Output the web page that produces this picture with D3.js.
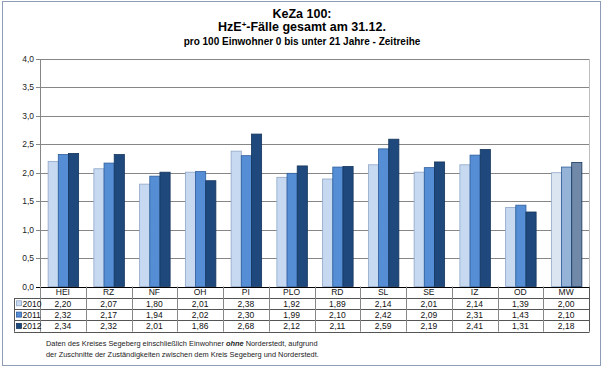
<!DOCTYPE html>
<html>
<head>
<meta charset="utf-8">
<script src="https://cdn.jsdelivr.net/npm/d3@7"></script>
<style>
  body { margin: 0; background: #fff; }
  svg { font-family: "Liberation Sans", Arial, sans-serif; }
</style>
</head>
<body>
<svg id="chart" width="603" height="370"></svg>
<script>
// chart data
const categories = ["HEI", "RZ", "NF", "OH", "PI", "PLÖ", "RD", "SL", "SE", "IZ", "OD", "MW"];
const years = ["2010", "2011", "2012"];
const values2010 = [2.20, 2.07, 1.80, 2.01, 2.38, 1.92, 1.89, 2.14, 2.01, 2.14, 1.39, 2.00];
const values2011 = [2.32, 2.17, 1.94, 2.02, 2.30, 1.99, 2.10, 2.42, 2.09, 2.31, 1.43, 2.10];
const values2012 = [2.34, 2.32, 2.01, 1.86, 2.68, 2.12, 2.11, 2.59, 2.19, 2.41, 1.31, 2.18];
const yTicks = [0, 0.5, 1, 1.5, 2, 2.5, 3, 3.5, 4];

const series = [values2010, values2011, values2012];
const fills = ["#c6d9f1", "#558ed5", "#1f497d"];
const strokes = ["#8fa6c6", "#2c5d9c", "#15355c"];
const fillsMW = ["#dbe5f2", "#95b3d7", "#7089a9"];
const fmt = v => v.toFixed(2).replace(".", ",");

const svg = d3.select("#chart");
const plotL = 40, plotR = 589, plotT = 59, plotB = 286.5;

// outer frame
svg.append("rect")
  .attr("x", 2.5).attr("y", 1.5).attr("width", 598).attr("height", 364)
  .attr("fill", "#fff").attr("stroke", "#8c9db5");

// titles
svg.append("text").attr("x", 302).attr("y", 17.5)
  .attr("text-anchor", "middle").attr("font-weight", "bold").attr("font-size", 12.5)
  .text("KeZa 100:");
const t2 = svg.append("text").attr("x", 302).attr("y", 30.5)
  .attr("text-anchor", "middle").attr("font-weight", "bold").attr("font-size", 12.5);
t2.append("tspan").text("HzE");
t2.append("tspan").attr("font-size", 8).attr("dy", -4).text("+");
t2.append("tspan").attr("dy", 4).text("-Fälle gesamt am 31.12.");
svg.append("text").attr("x", 302).attr("y", 44.5)
  .attr("text-anchor", "middle").attr("font-weight", "bold").attr("font-size", 10)
  .text("pro 100 Einwohner 0 bis unter 21 Jahre - Zeitreihe");

const x0 = d3.scaleBand().domain(categories).range([plotL, plotR]);
const bw = x0.bandwidth();
const x1 = d3.scaleBand().domain(years).range([bw / 6 + 0.5, bw - bw / 6 + 0.5]);
const y = d3.scaleLinear().domain([0, 4]).range([plotB, plotT]);

// gridlines
svg.append("g").selectAll("line").data(yTicks).enter().append("line")
  .attr("x1", plotL - 4).attr("x2", plotR)
  .attr("y1", d => Math.round(y(d)) + 0.5).attr("y2", d => Math.round(y(d)) + 0.5)
  .attr("stroke", d => d === 0 ? "#000" : "#868686");

// plot area sides
svg.append("line").attr("x1", plotL + 0.5).attr("x2", plotL + 0.5)
  .attr("y1", plotT).attr("y2", plotB).attr("stroke", "#868686");
svg.append("line").attr("x1", plotR + 0.5).attr("x2", plotR + 0.5)
  .attr("y1", plotT).attr("y2", plotB).attr("stroke", "#bdbdbd");

// y labels
svg.append("g").selectAll("text").data(yTicks).enter().append("text")
  .attr("x", 34).attr("y", d => y(d) + 3)
  .attr("text-anchor", "end").attr("font-size", 8.5).attr("fill", "#222")
  .text(d => d.toFixed(1).replace(".", ","));

// bars
years.forEach((yr, s) => {
  svg.append("g").selectAll("rect").data(categories).enter().append("rect")
    .attr("x", d => x0(d) + x1(yr))
    .attr("y", (d, i) => y(series[s][i]))
    .attr("width", x1.bandwidth())
    .attr("height", (d, i) => plotB - y(series[s][i]))
    .attr("fill", d => d === "MW" ? fillsMW[s] : fills[s])
    .attr("stroke", strokes[s]).attr("stroke-width", 0.8);
});

// data table
const rowH = 11.3;
const rows = d3.scaleBand().domain(["head"].concat(years))
  .range([plotB, plotB + rowH * 4]);
const tbl = svg.append("g").attr("stroke", "#555").attr("stroke-width", 1);
rows.domain().forEach(r => {
  const yy = Math.round(rows(r) + rowH) + 0.5;
  tbl.append("line").attr("x1", 14).attr("x2", plotR + 0.5).attr("y1", yy).attr("y2", yy);
});
categories.forEach(c => {
  tbl.append("line").attr("x1", Math.round(x0(c)) + 0.5).attr("x2", Math.round(x0(c)) + 0.5)
    .attr("y1", plotB).attr("y2", plotB + rowH * 4).attr("stroke", "#888");
});
tbl.append("line").attr("x1", plotR + 0.5).attr("x2", plotR + 0.5)
  .attr("y1", plotB).attr("y2", plotB + rowH * 4);
tbl.append("line").attr("x1", 14.5).attr("x2", 14.5)
  .attr("y1", Math.round(rows("2010")) + 0.5).attr("y2", plotB + rowH * 4);

// header labels
svg.append("g").selectAll("text").data(categories).enter().append("text")
  .attr("x", d => x0(d) + bw / 2).attr("y", rows("head") + 8.8)
  .attr("text-anchor", "middle").attr("font-size", 8.5).attr("fill", "#111")
  .text(d => d);

// value rows
years.forEach((yr, s) => {
  const ry = rows(yr);
  svg.append("rect").attr("x", 16.5).attr("y", ry + 3).attr("width", 5).attr("height", 5)
    .attr("fill", fills[s]).attr("stroke", strokes[s]).attr("stroke-width", 0.8);
  svg.append("text").attr("x", 22.5).attr("y", ry + 9).attr("font-size", 8.5)
    .attr("fill", "#111").text(yr);
  svg.append("g").selectAll("text").data(categories).enter().append("text")
    .attr("x", d => x0(d) + bw / 2).attr("y", ry + 9)
    .attr("text-anchor", "middle").attr("font-size", 8.5).attr("fill", "#111")
    .text((d, i) => fmt(series[s][i]));
});

// footnote
const f1 = svg.append("text").attr("x", 46).attr("y", 345.5).attr("font-size", 7.4).attr("fill", "#222");
f1.append("tspan").text("Daten des Kreises Segeberg einschließlich Einwohner ");
f1.append("tspan").attr("font-style", "italic").attr("font-weight", "bold").text("ohne");
f1.append("tspan").text(" Norderstedt, aufgrund");
svg.append("text").attr("x", 46).attr("y", 356.5).attr("font-size", 7.4).attr("fill", "#222")
  .text("der Zuschnitte der Zuständigkeiten zwischen dem Kreis Segeberg und Norderstedt.");
</script>
</body>
</html>
